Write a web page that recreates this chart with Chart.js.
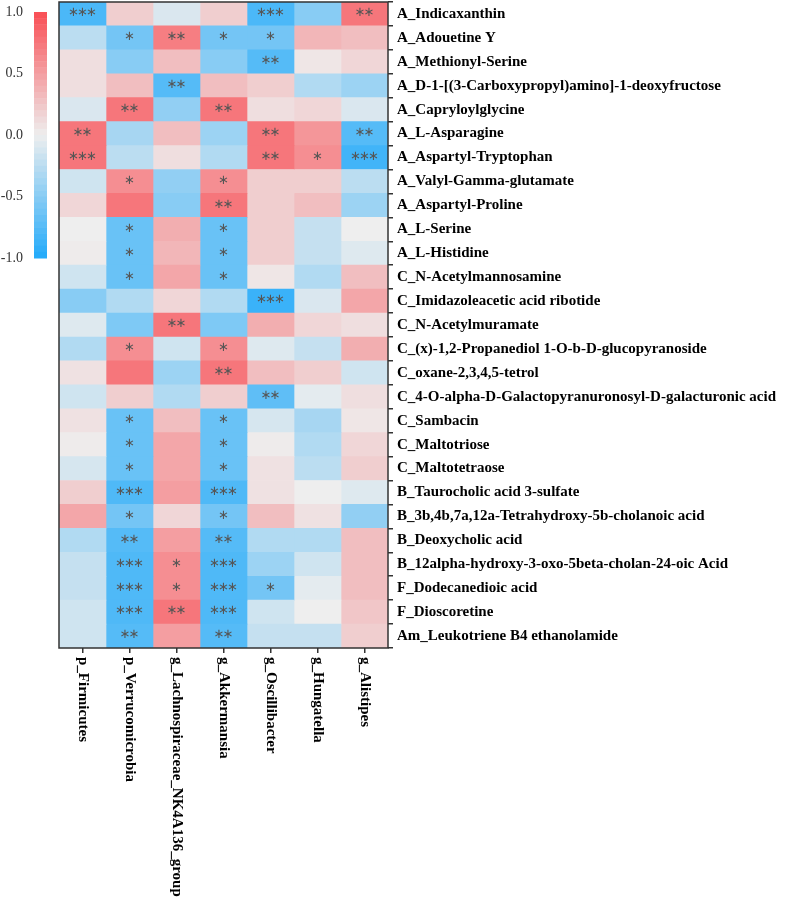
<!DOCTYPE html>
<html>
<head>
<meta charset="utf-8">
<script src="https://cdn.jsdelivr.net/npm/chart.js@4"></script>
<style>
  html, body { margin: 0; padding: 0; background: #fff; }
  #wrap { width: 790px; height: 907px; position: relative; }
</style>
</head>
<body>
<div id="wrap"><canvas id="heat"></canvas></div>
<script>
// rows (metabolites), top to bottom
const metabolites = [
    "A_Indicaxanthin", "A_Adouetine Y", "A_Methionyl-Serine",
    "A_D-1-[(3-Carboxypropyl)amino]-1-deoxyfructose", "A_Capryloylglycine",
    "A_L-Asparagine", "A_Aspartyl-Tryptophan", "A_Valyl-Gamma-glutamate",
    "A_Aspartyl-Proline", "A_L-Serine", "A_L-Histidine", "C_N-Acetylmannosamine",
    "C_Imidazoleacetic acid ribotide", "C_N-Acetylmuramate",
    "C_(x)-1,2-Propanediol 1-O-b-D-glucopyranoside", "C_oxane-2,3,4,5-tetrol",
    "C_4-O-alpha-D-Galactopyranuronosyl-D-galacturonic acid", "C_Sambacin",
    "C_Maltotriose", "C_Maltotetraose", "B_Taurocholic acid 3-sulfate",
    "B_3b,4b,7a,12a-Tetrahydroxy-5b-cholanoic acid", "B_Deoxycholic acid",
    "B_12alpha-hydroxy-3-oxo-5beta-cholan-24-oic Acid", "F_Dodecanedioic acid",
    "F_Dioscoretine", "Am_Leukotriene B4 ethanolamide"
];

// columns (bacteria), left to right
const bacteria = ["p_Firmicutes", "p_Verrucomicrobia", "g_Lachnospiraceae_NK4A136_group",
    "g_Akkermansia", "g_Oscillibacter", "g_Hungatella", "g_Alistipes"];

// correlation values per column, one per metabolite
const firmicutes      = [-0.8, -0.25, 0.1, 0.1, -0.1, 0.75, 0.75, -0.15, 0.15, 0.0, 0.02, -0.15, -0.5, -0.08, -0.3, 0.08, -0.15, 0.08, 0.02, -0.12, 0.2, 0.45, -0.3, -0.2, -0.2, -0.15, -0.15];
const verrucomicrobia = [0.2, -0.6, -0.5, 0.3, 0.75, -0.35, -0.25, 0.6, 0.75, -0.65, -0.65, -0.65, -0.3, -0.55, 0.6, 0.75, 0.2, -0.65, -0.65, -0.65, -0.78, -0.6, -0.75, -0.78, -0.78, -0.78, -0.75];
const lachnospiraceae = [-0.1, 0.7, 0.3, -0.75, -0.45, 0.3, 0.1, -0.45, -0.5, 0.4, 0.35, 0.45, 0.15, 0.75, -0.15, -0.4, -0.3, 0.3, 0.45, 0.45, 0.5, 0.15, 0.5, 0.6, 0.6, 0.75, 0.5];
const akkermansia     = [0.2, -0.6, -0.5, 0.3, 0.75, -0.4, -0.3, 0.6, 0.75, -0.65, -0.65, -0.65, -0.3, -0.55, 0.6, 0.75, 0.2, -0.65, -0.65, -0.65, -0.78, -0.6, -0.75, -0.78, -0.78, -0.78, -0.75];
const oscillibacter   = [-0.8, -0.6, -0.75, 0.2, 0.1, 0.75, 0.75, 0.2, 0.2, 0.2, 0.2, 0.05, -0.88, 0.4, -0.08, 0.3, -0.7, -0.12, 0.02, 0.08, 0.08, 0.3, -0.3, -0.4, -0.6, -0.15, -0.2];
const hungatella      = [-0.5, 0.35, 0.05, -0.3, 0.15, 0.55, 0.6, 0.2, 0.3, -0.2, -0.2, -0.3, -0.1, 0.15, -0.2, 0.2, -0.05, -0.35, -0.3, -0.25, 0.0, 0.08, -0.3, -0.15, -0.05, 0.0, -0.2];
const alistipes       = [0.75, 0.3, 0.15, -0.4, -0.1, -0.75, -0.85, -0.25, -0.4, 0.0, -0.08, 0.3, 0.45, 0.1, 0.4, -0.15, 0.1, 0.05, 0.15, 0.2, -0.08, -0.45, 0.3, 0.3, 0.3, 0.25, 0.2];

// significance marks per column
const starsFirmicutes = ["***", "", "", "", "", "**", "***", "", "", "", "", "", "", "", "", "", "", "", "", "", "", "", "", "", "", "", ""];
const starsVerruco    = ["", "*", "", "", "**", "", "", "*", "", "*", "*", "*", "", "", "*", "", "", "*", "*", "*", "***", "*", "**", "***", "***", "***", "**"];
const starsLachno     = ["", "**", "", "**", "", "", "", "", "", "", "", "", "", "**", "", "", "", "", "", "", "", "", "", "*", "*", "**", ""];
const starsAkker      = ["", "*", "", "", "**", "", "", "*", "**", "*", "*", "*", "", "", "*", "**", "", "*", "*", "*", "***", "*", "**", "***", "***", "***", "**"];
const starsOscill     = ["***", "*", "**", "", "", "**", "**", "", "", "", "", "", "***", "", "", "", "**", "", "", "", "", "", "", "", "*", "", ""];
const starsHungat     = ["", "", "", "", "", "", "*", "", "", "", "", "", "", "", "", "", "", "", "", "", "", "", "", "", "", "", ""];
const starsAlist      = ["**", "", "", "", "", "**", "***", "", "", "", "", "", "", "", "", "", "", "", "", "", "", "", "", "", "", "", ""];

const colorTicks = [1.0, 0.5, 0.0, -0.5, -1.0];

const columns = [firmicutes, verrucomicrobia, lachnospiraceae, akkermansia, oscillibacter, hungatella, alistipes];
const stars = [starsFirmicutes, starsVerruco, starsLachno, starsAkker, starsOscill, starsHungat, starsAlist];

const MID = [238, 238, 238], RED = [249, 78, 84], BLUE = [34, 170, 250];
function colorFor(v) {
    v = Math.max(-1, Math.min(1, v));
    const end = v >= 0 ? RED : BLUE;
    const t = Math.abs(v);
    const c = MID.map((m, k) => Math.round(m + (end[k] - m) * t));
    return 'rgb(' + c.join(',') + ')';
}

const SERIF = '"Liberation Serif", "Times New Roman", serif';

const datasets = columns.map(function (col, j) {
    return {
        label: bacteria[j],
        data: col.map(() => [j, j + 1]),
        backgroundColor: col.map(colorFor),
        borderWidth: 0,
        barPercentage: 1,
        categoryPercentage: 1,
        grouped: false
    };
});

const heatExtras = {
    id: 'heatExtras',
    afterDatasetsDraw(chart) {
        const ctx = chart.ctx, a = chart.chartArea;
        const xs = chart.scales.x, ys = chart.scales.y;
        // significance stars
        ctx.save();
        ctx.fillStyle = '#555';
        ctx.font = '13px "DejaVu Sans"';
        ctx.textAlign = 'center';
        ctx.textBaseline = 'middle';
        stars.forEach(function (col, j) {
            const cx = xs.getPixelForValue(j + 0.5);
            col.forEach(function (s, i) {
                if (!s) return;
                const cy = ys.getPixelForValue(i) - 1;
                const step = 9;
                for (let k = 0; k < s.length; k++) {
                    ctx.fillText('\u2217', cx + (k - (s.length - 1) / 2) * step, cy);
                }
            });
        });
        // frame
        ctx.strokeStyle = '#333';
        ctx.lineWidth = 1.5;
        ctx.strokeRect(a.left, a.top, a.right - a.left, a.bottom - a.top);
        ctx.restore();
    },
    afterDraw(chart) {
        const ctx = chart.ctx, a = chart.chartArea, xs = chart.scales.x;
        ctx.save();
        // column labels, reading top to bottom
        ctx.fillStyle = '#000';
        ctx.font = 'bold 15px ' + SERIF;
        ctx.textAlign = 'left';
        ctx.textBaseline = 'middle';
        bacteria.forEach(function (b, j) {
            const x = xs.getPixelForValue(j + 0.5);
            ctx.save();
            ctx.translate(x, a.bottom + 9);
            ctx.rotate(Math.PI / 2);
            ctx.fillText(b, 0, 0);
            ctx.restore();
        });
        // colour bar
        const top = 12, bottom = 258, left = 34, w = 13, steps = 40;
        const h = (bottom - top) / steps;
        for (let s = 0; s < steps; s++) {
            const v = 1 - (s + 0.5) * 2 / steps;
            ctx.fillStyle = colorFor(v);
            ctx.fillRect(left, top + s * h, w, h + 0.5);
        }
        ctx.fillStyle = '#333';
        ctx.font = '14px ' + SERIF;
        ctx.textAlign = 'right';
        colorTicks.forEach(function (t) {
            const y = top + (1 - t) / 2 * (bottom - top);
            ctx.fillText(t.toFixed(1), 23, y);
        });
        ctx.restore();
    }
};

new Chart(document.getElementById('heat').getContext('2d'), {
    type: 'bar',
    data: { labels: metabolites, datasets: datasets },
    options: {
        responsive: true,
        maintainAspectRatio: false,
        animation: false,
        indexAxis: 'y',
        layout: { padding: { left: 59, top: 2, right: 0, bottom: 0 } },
        plugins: { legend: { display: false }, tooltip: { enabled: false } },
        scales: {
            x: {
                type: 'linear',
                position: 'bottom',
                min: 0,
                max: 7,
                afterBuildTicks: function (scale) {
                    scale.ticks = bacteria.map((b, j) => ({ value: j + 0.5 }));
                },
                afterFit: function (scale) {
                    scale.height = 907 - 648;
                    scale.paddingLeft = 0; scale.paddingRight = 0;
                },
                ticks: { callback: () => '', maxRotation: 0 },
                grid: { drawOnChartArea: false, drawTicks: true, tickLength: 5, color: '#333', lineWidth: 1.5 },
                border: { display: false }
            },
            y: {
                type: 'category',
                position: 'right',
                afterFit: function (scale) {
                    scale.width = 790 - 388;
                    scale.paddingTop = 0; scale.paddingBottom = 0;
                },
                ticks: { color: '#000', font: { family: SERIF, size: 15, weight: 'bold' }, padding: 4, autoSkip: false },
                grid: { drawOnChartArea: false, drawTicks: true, tickLength: 5, color: '#333', lineWidth: 1.5 },
                border: { display: false }
            }
        }
    },
    plugins: [heatExtras]
});
</script>
</body>
</html>
